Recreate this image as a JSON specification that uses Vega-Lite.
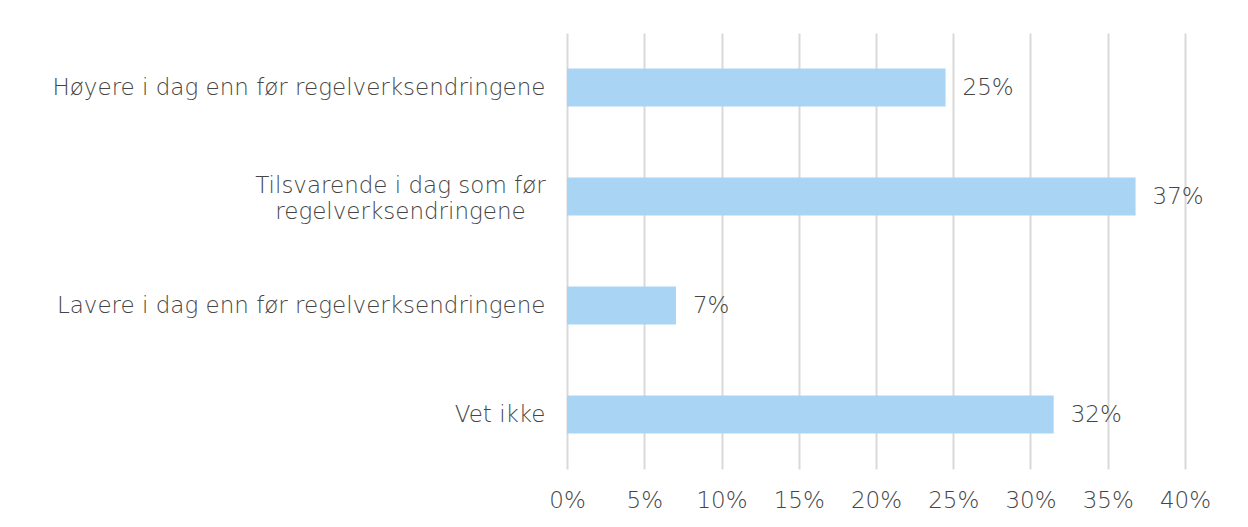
{
  "$schema": "https://vega.github.io/schema/vega-lite/v6.json",
  "width": 618,
  "height": 436,
  "autosize": {"type": "none"},
  "padding": {"left": 567, "top": 33, "right": 63, "bottom": 58},
  "background": "white",
  "config": {
    "view": {"stroke": null},
    "font": "DejaVu Sans",
    "text": {"font": "DejaVu Sans"}
  },
  "data": {
    "values": [
      {"kategori": "Høyere i dag enn før regelverksendringene", "andel": 0.245, "etikett": "25%"},
      {"kategori": "Tilsvarende i dag som før regelverksendringene", "andel": 0.368, "etikett": "37%"},
      {"kategori": "Lavere i dag enn før regelverksendringene", "andel": 0.0705, "etikett": "7%"},
      {"kategori": "Vet ikke", "andel": 0.315, "etikett": "32%"}
    ]
  },
  "encoding": {
    "y": {
      "field": "kategori",
      "type": "nominal",
      "sort": null,
      "scale": {"paddingInner": 0.65, "paddingOuter": 0.325},
      "axis": {
        "title": null,
        "domain": false,
        "ticks": false,
        "labelAlign": {"condition": {"test": "datum.value == 'Tilsvarende i dag som før regelverksendringene'", "value": "center"}, "value": "right"},
        "labelPadding": {"condition": {"test": "datum.value == 'Tilsvarende i dag som før regelverksendringene'", "value": 167}, "value": 22},
        "labelOffset": {"condition": {"test": "datum.value == 'Tilsvarende i dag som før regelverksendringene'", "value": -11}, "value": 0},
        "labelFontSize": 23,
        "labelFontWeight": 200,
        "labelColor": "#454545",
        "labelLimit": 600,
        "labelLineHeight": 26,
        "labelExpr": "datum.value == 'Tilsvarende i dag som før regelverksendringene' ? ['Tilsvarende i dag som før', 'regelverksendringene'] : datum.value"
      }
    },
    "x": {
      "field": "andel",
      "type": "quantitative",
      "scale": {"domain": [0, 0.4], "nice": false},
      "axis": {
        "title": null,
        "format": ".0%",
        "values": [0, 0.05, 0.1, 0.15, 0.2, 0.25, 0.3, 0.35, 0.4],
        "domain": false,
        "ticks": false,
        "grid": true,
        "gridColor": "#D9D9D9",
        "gridWidth": 2,
        "labelPadding": 20,
        "labelFontSize": 23,
        "labelFontWeight": 200,
        "labelColor": "#454545",
        "labelFlush": false
      }
    }
  },
  "layer": [
    {"mark": {"type": "bar", "color": "#A9D4F4"}},
    {
      "mark": {"type": "text", "align": "left", "baseline": "middle", "dx": 17, "fontSize": 23, "fontWeight": 200, "color": "#454545"},
      "encoding": {"text": {"field": "etikett"}}
    }
  ]
}
